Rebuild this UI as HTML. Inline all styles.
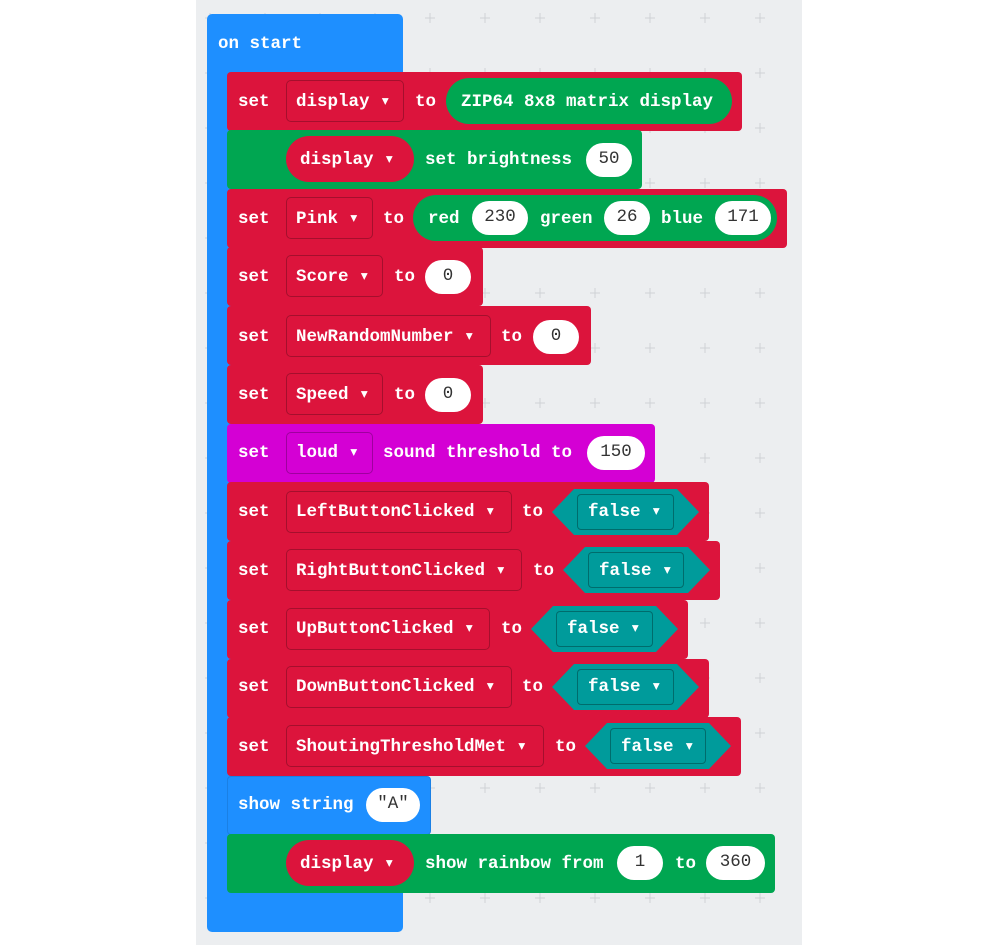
<!DOCTYPE html>
<html><head><style>
body{margin:0;width:1000px;height:945px;background:#fff;position:relative;overflow:hidden;font-family:"Liberation Mono",monospace;font-weight:bold;font-size:17.5px;color:#fff}
.a{position:absolute}
.canvas{left:196px;top:0;width:606px;height:945px;background:#eceef0}
.row{position:absolute;left:227px;height:59px;border-radius:4px}
.red{background:#dc143c}.grn{background:#00a651}.pur{background:#d400d4}.blu{background:#1e8fff}
.t{position:absolute;line-height:20px}
.dd{position:absolute;height:42px;border:1px solid rgba(0,0,0,.25);border-radius:5px;box-sizing:border-box}
.ov{position:absolute;height:46px;border-radius:23px}
.w{position:absolute;height:34px;border-radius:17px;background:#fff;color:#333;text-align:center;line-height:32px;font-weight:normal}
.hex{position:absolute;height:46px;background:#009b9b;clip-path:polygon(0 50%,22px 0,calc(100% - 22px) 0,100% 50%,calc(100% - 22px) 100%,22px 100%)}
.fb{position:absolute;height:36px;border:1px solid rgba(0,0,0,.3);border-radius:4px;box-sizing:border-box;background:#009b9b}
</style></head><body>
<div class="a canvas"></div>
<svg class="a" style="left:196px;top:0" width="606" height="945">
<defs><pattern id="g" x="229" y="13" width="55" height="55" patternUnits="userSpaceOnUse">
<path d="M0 5H10M5 0V10" stroke="#cfd2d6" stroke-width="1"/></pattern></defs>
<rect width="606" height="945" fill="url(#g)"/></svg>
<div class="a blu" style="left:207px;top:14px;width:196px;height:918px;border-radius:5px"></div>
<div class="t" style="left:218px;top:34px">on start</div>

<div class="row red" style="top:72px;width:515px"></div>
<div class="t" style="left:238px;top:92px">set</div>
<div class="dd" style="left:286px;top:80px;width:118px"></div>
<div class="t" style="left:296px;top:92px">display ▾</div>
<div class="t" style="left:415px;top:92px">to</div>
<div class="ov grn" style="left:446px;top:78px;width:286px"></div>
<div class="t" style="left:461px;top:92px">ZIP64 8x8 matrix display</div>

<div class="row grn" style="top:130px;width:415px"></div>
<div class="ov red" style="left:286px;top:136px;width:128px"></div>
<div class="t" style="left:300px;top:150px">display ▾</div>
<div class="t" style="left:425px;top:150px">set brightness</div>
<div class="w" style="left:586px;top:143px;width:46px">50</div>

<div class="row red" style="top:189px;width:560px"></div>
<div class="t" style="left:238px;top:209px">set</div>
<div class="dd" style="left:286px;top:197px;width:87px"></div>
<div class="t" style="left:296px;top:209px">Pink ▾</div>
<div class="t" style="left:383px;top:209px">to</div>
<div class="ov grn" style="left:413px;top:195px;width:364px"></div>
<div class="t" style="left:428px;top:209px">red</div>
<div class="w" style="left:472px;top:201px;width:56px">230</div>
<div class="t" style="left:540px;top:209px">green</div>
<div class="w" style="left:604px;top:201px;width:46px">26</div>
<div class="t" style="left:661px;top:209px">blue</div>
<div class="w" style="left:715px;top:201px;width:56px">171</div>

<div class="row red" style="top:247px;width:256px"></div>
<div class="t" style="left:238px;top:267px">set</div>
<div class="dd" style="left:286px;top:255px;width:97px"></div>
<div class="t" style="left:296px;top:267px">Score ▾</div>
<div class="t" style="left:394px;top:267px">to</div>
<div class="w" style="left:425px;top:260px;width:46px">0</div>

<div class="row red" style="top:306px;width:364px"></div>
<div class="t" style="left:238px;top:327px">set</div>
<div class="dd" style="left:286px;top:315px;width:205px"></div>
<div class="t" style="left:296px;top:327px">NewRandomNumber ▾</div>
<div class="t" style="left:501px;top:327px">to</div>
<div class="w" style="left:533px;top:320px;width:46px">0</div>

<div class="row red" style="top:365px;width:256px"></div>
<div class="t" style="left:238px;top:385px">set</div>
<div class="dd" style="left:286px;top:373px;width:97px"></div>
<div class="t" style="left:296px;top:385px">Speed ▾</div>
<div class="t" style="left:394px;top:385px">to</div>
<div class="w" style="left:425px;top:378px;width:46px">0</div>

<div class="row pur" style="top:424px;width:428px"></div>
<div class="t" style="left:238px;top:443px">set</div>
<div class="dd" style="left:286px;top:432px;width:87px"></div>
<div class="t" style="left:296px;top:443px">loud ▾</div>
<div class="t" style="left:383px;top:443px">sound threshold to</div>
<div class="w" style="left:587px;top:436px;width:58px">150</div>

<div class="row red" style="top:482px;width:482px"></div>
<div class="t" style="left:238px;top:502px">set</div>
<div class="dd" style="left:286px;top:491px;width:226px"></div>
<div class="t" style="left:296px;top:502px">LeftButtonClicked ▾</div>
<div class="t" style="left:522px;top:502px">to</div>
<div class="hex" style="left:552px;top:489px;width:147px"></div>
<div class="fb" style="left:577px;top:494px;width:97px"></div>
<div class="t" style="left:588px;top:502px">false ▾</div>

<div class="row red" style="top:541px;width:493px"></div>
<div class="t" style="left:238px;top:561px">set</div>
<div class="dd" style="left:286px;top:549px;width:236px"></div>
<div class="t" style="left:296px;top:561px">RightButtonClicked ▾</div>
<div class="t" style="left:533px;top:561px">to</div>
<div class="hex" style="left:563px;top:547px;width:147px"></div>
<div class="fb" style="left:588px;top:552px;width:96px"></div>
<div class="t" style="left:599px;top:561px">false ▾</div>

<div class="row red" style="top:600px;width:461px"></div>
<div class="t" style="left:238px;top:619px">set</div>
<div class="dd" style="left:286px;top:608px;width:204px"></div>
<div class="t" style="left:296px;top:619px">UpButtonClicked ▾</div>
<div class="t" style="left:501px;top:619px">to</div>
<div class="hex" style="left:531px;top:606px;width:147px"></div>
<div class="fb" style="left:556px;top:611px;width:97px"></div>
<div class="t" style="left:567px;top:619px">false ▾</div>

<div class="row red" style="top:659px;width:482px"></div>
<div class="t" style="left:238px;top:677px">set</div>
<div class="dd" style="left:286px;top:666px;width:226px"></div>
<div class="t" style="left:296px;top:677px">DownButtonClicked ▾</div>
<div class="t" style="left:522px;top:677px">to</div>
<div class="hex" style="left:552px;top:664px;width:147px"></div>
<div class="fb" style="left:577px;top:669px;width:97px"></div>
<div class="t" style="left:588px;top:677px">false ▾</div>

<div class="row red" style="top:717px;width:514px"></div>
<div class="t" style="left:238px;top:737px">set</div>
<div class="dd" style="left:286px;top:725px;width:258px"></div>
<div class="t" style="left:296px;top:737px">ShoutingThresholdMet ▾</div>
<div class="t" style="left:555px;top:737px">to</div>
<div class="hex" style="left:585px;top:723px;width:146px"></div>
<div class="fb" style="left:610px;top:728px;width:96px"></div>
<div class="t" style="left:621px;top:737px">false ▾</div>

<div class="row blu" style="top:776px;width:204px;box-shadow:inset 0 0 0 1px rgba(0,0,0,.1)"></div>
<div class="t" style="left:238px;top:795px">show string</div>
<div class="w" style="left:366px;top:788px;width:54px">"A"</div>

<div class="row grn" style="top:834px;width:548px"></div>
<div class="ov red" style="left:286px;top:840px;width:128px"></div>
<div class="t" style="left:300px;top:854px">display ▾</div>
<div class="t" style="left:425px;top:854px">show rainbow from</div>
<div class="w" style="left:617px;top:846px;width:46px">1</div>
<div class="t" style="left:675px;top:854px">to</div>
<div class="w" style="left:706px;top:846px;width:59px">360</div>
</body></html>
